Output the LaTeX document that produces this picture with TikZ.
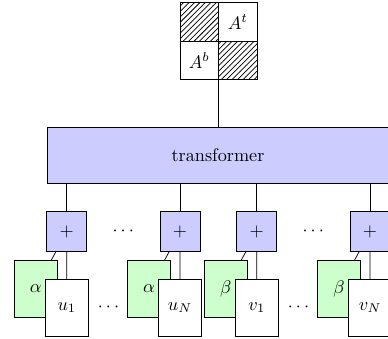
\documentclass[tikz,border=0pt]{standalone}
\usetikzlibrary{patterns}
\definecolor{tfblue}{RGB}{204,204,255}
\definecolor{wgreen}{RGB}{204,255,204}
\tikzset{
  box/.style={draw, line width=0.4pt, inner sep=0pt, outer sep=0pt},
  cell/.style={box, minimum width=21.16pt, minimum height=21.16pt},
  hatched/.style={cell, pattern=north east lines},
  plusbox/.style={box, fill=tfblue, minimum width=21.98pt, minimum height=21.98pt},
  weightbox/.style={box, fill=wgreen, minimum width=23.63pt, minimum height=31.32pt},
  tokenbox/.style={box, fill=white, minimum width=23.63pt, minimum height=31.32pt},
  wire/.style={draw, line width=0.4pt},
}
\begin{document}
\begin{tikzpicture}[x=0.5495pt, y=-0.5495pt]
\useasboundingbox (0,0) rectangle (388,339);
\clip (0,0) rectangle (388,339);

% block matrix with hatched diagonal
\node[hatched] (c11) at (199.3,22) {};
\node[cell] (c12) at (237.8,22) {$A^t$};
\node[cell] (c21) at (199.3,60.5) {$A^b$};
\node[hatched] (c22) at (237.8,60.5) {};

% transformer block
\node[box, fill=tfblue, minimum width=187.9pt, minimum height=30.8pt] (tr) at (218,155) {transformer};
\draw[wire] (c21.south east) -- (c21.south east |- tr.north);

% columns: weight, token and sum
\foreach \n/\cx/\w/\t in {1/66.7/\alpha/u_1, 2/180/\alpha/u_N, 3/256.7/\beta/v_1, 4/370/\beta/v_N}{
  \node[plusbox] (p\n) at (\cx,231.7) {$+$};
  \node[weightbox] (g\n) at (\cx-30.9,288.7) {$\w$};
  \draw[wire] (p\n) -- (g\n);
  \node[tokenbox] (t\n) at (\cx+0.1,307.7) {$\t$};
  \draw[wire] (p\n) -- (t\n);
  \draw[wire] (p\n.north) -- (p\n.north |- tr.south);
}

% ellipses between columns
\node (d1) at (123.3,231.7) {$\cdots$};
\node (d2) at (313.3,231.7) {$\cdots$};
\node (d3) at (108.5,307.3) {$\cdots$};
\node (d4) at (298.5,307.3) {$\cdots$};
\end{tikzpicture}
\end{document}
